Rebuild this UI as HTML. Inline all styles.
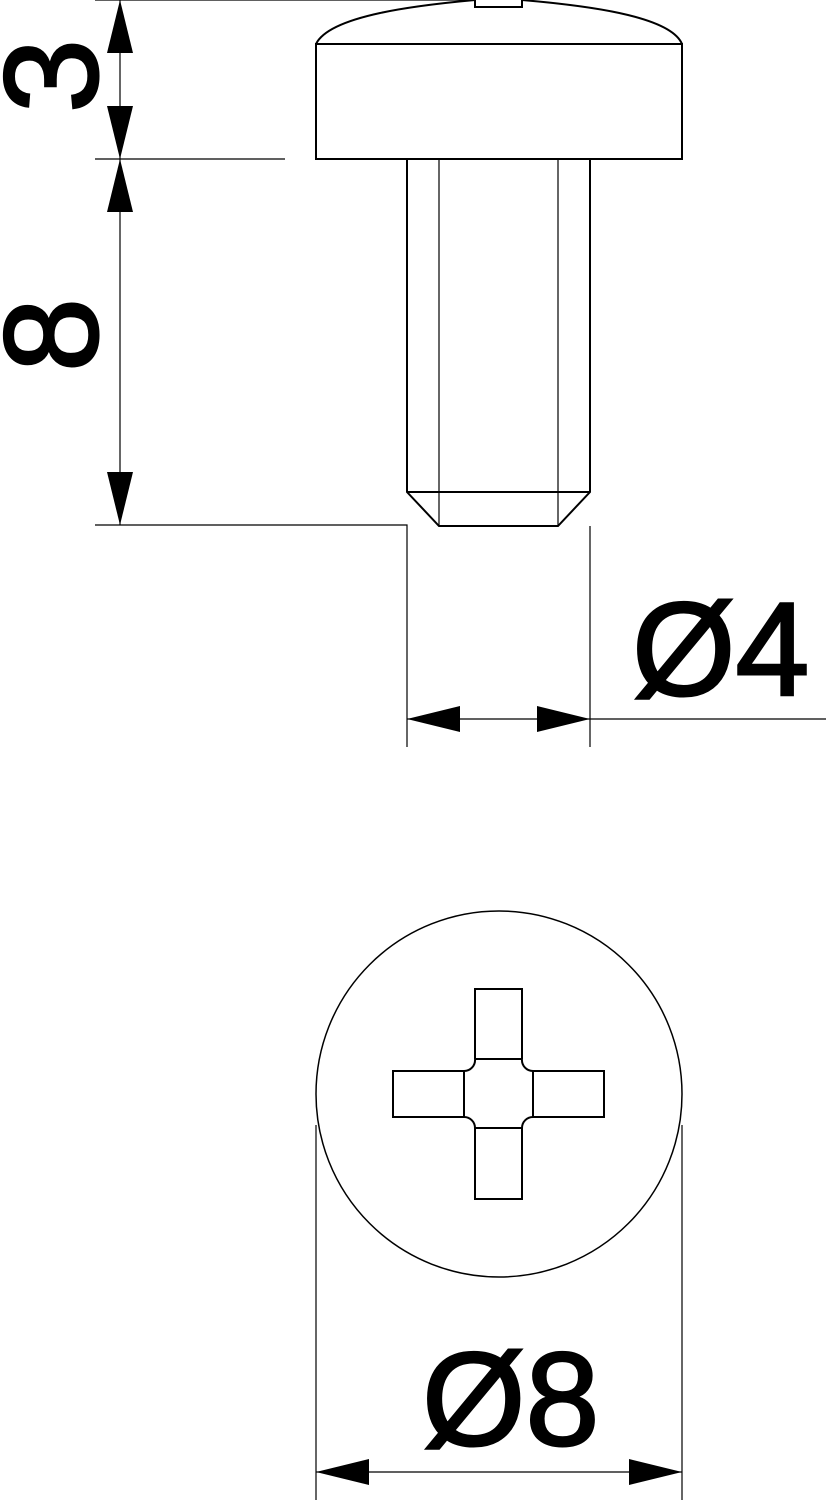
<!DOCTYPE html>
<html><head><style>html,body{margin:0;padding:0;background:#fff}svg{display:block}</style></head>
<body>
<svg width="826" height="1500" viewBox="0 0 826 1500" xmlns="http://www.w3.org/2000/svg">
<g fill="none" stroke="#000" stroke-width="2">
<path d="M316,44 C330,15 420,5 475,0 M522,0 C580,5 670,15 682,44"/>
<path d="M475,0 V7 H522 V0"/>
<rect x="316" y="44" width="366" height="115"/>
<path d="M407,159 V492 L439,526 H558 L590,492 V159"/>
<path d="M407,492 H590"/>
<path d="M439,159 V526 M558,159 V526" stroke-width="1.2"/>
<circle cx="499" cy="1094" r="183" stroke-width="1.5"/>
<path d="M475,1059 V989 H522 V1059 M475,1059 H522 M533,1071 H604 V1117 H533 M533,1071 V1117 M522,1128 V1199 H475 V1128 M475,1128 H522 M464,1117 H393 V1071 H464 M464,1071 V1117"/>
<path d="M464,1071 A11,11 0 0 0 475,1059 M522,1059 A11,11 0 0 0 533,1071 M533,1117 A11,11 0 0 0 522,1128 M475,1128 A11,11 0 0 0 464,1117"/>
</g>
<g fill="none" stroke="#000" stroke-width="1.2">
<path d="M95,0 H475 M95,159 H285 M95,525 H407 V747 M590,526 V747 M120,0 V525 M407,719 H826"/>
<path d="M316,1125 V1500 M682,1125 V1500 M316,1472 H682"/>
</g>
<g fill="#000">
<polygon points="120,0 107,53 133,53"/>
<polygon points="120,159 107,106 133,106"/>
<polygon points="120,159 107,212 133,212"/>
<polygon points="120,525 107,472 133,472"/>
<polygon points="407,719 460,706 460,732"/>
<polygon points="590,719 537,706 537,732"/>
<polygon points="316,1472 369,1459 369,1485"/>
<polygon points="682,1472 629,1459 629,1485"/>
</g>
<g font-family="Liberation Sans, sans-serif" font-size="133" fill="#000" stroke="#000" stroke-width="2.5">
<text transform="translate(97,76) rotate(-90)" text-anchor="middle">3</text>
<text transform="translate(97,335) rotate(-90)" text-anchor="middle">8</text>
<text x="632" y="695">Ø4</text>
<text x="422" y="1445">Ø8</text>
</g>
</svg>
</body></html>
